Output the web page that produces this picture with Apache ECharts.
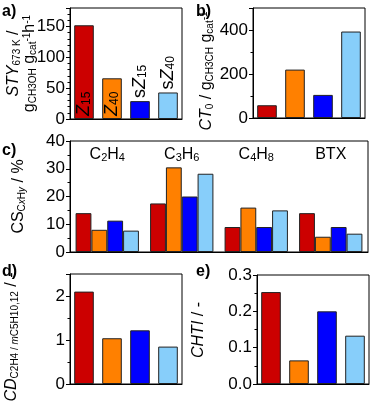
<!DOCTYPE html>
<html>
<head>
<meta charset="utf-8">
<script src="https://cdn.jsdelivr.net/npm/echarts@6/dist/echarts.min.js"></script>
<style>
  html, body { margin: 0; padding: 0; background: #fff; }
  #chart { width: 370px; height: 405px; }
</style>
</head>
<body>
<div id="chart"></div>
<script>
// catalysts (a, b, d, e) and product groups (c)
const catalysts = ['Z15', 'Z40', 'sZ15', 'sZ40']
const products = ['C2H4', 'C3H6', 'C4H8', 'BTX']

// a) space-time yield, b) CT0
const sty = [152, 66, 29, 43]
const ct0 = [58, 220, 105, 393]

// c) carbon selectivity per product, one array per catalyst
const csZ15 = [14, 17.5, 9, 14]
const csZ40 = [8, 30.5, 16, 5.5]
const csSZ15 = [11.3, 20, 9, 9]
const csSZ40 = [7.7, 28.2, 15, 6.6]

// d) CD ratio, e) CHTI
const cd = [2.1, 1.04, 1.22, 0.85]
const chti = [0.253, 0.065, 0.2, 0.133]

const COLORS = ['#cc0000', '#ff8000', '#0000ff', '#87cefa']
const FONT = 'Liberation Sans, Arial, sans-serif'

const chart = echarts.init(document.getElementById('chart'))

// rich text styles for sub/superscripts; w = empty spacer to nudge names down
const nameRich = {
  n: { fontSize: 16, fontFamily: FONT, color: '#000', lineHeight: 16 },
  i: { fontSize: 16, fontFamily: FONT, color: '#000', fontStyle: 'italic', lineHeight: 16 },
  s: { fontSize: 10, fontFamily: FONT, color: '#000', lineHeight: 9, verticalAlign: 'bottom' },
  si: { fontSize: 10, fontFamily: FONT, color: '#000', fontStyle: 'italic', lineHeight: 9, verticalAlign: 'bottom' },
  p: { fontSize: 10, fontFamily: FONT, color: '#000', lineHeight: 9, verticalAlign: 'top' },
  w: { width: 16 }
}

// "C2H4" -> rich string with subscript digits
const chem = (t) => t.replace(/([A-Za-z]+)|(\d+)/g, (m, a, d) => a ? `{n|${a}}` : `{s|${d}}`)

const grids = [
  { left: 70, top: 8, width: 112, height: 111 },
  { left: 253, top: 8, width: 112, height: 110 },
  { left: 70, top: 141, width: 298, height: 111 },
  { left: 70, top: 274, width: 112, height: 110 },
  { left: 257, top: 275, width: 112, height: 109 }
].map(g => ({ ...g, show: true, borderColor: '#000', borderWidth: 1, backgroundColor: 'transparent' }))

const yAxis = (gridIndex, max, interval, minor, name, gap, extra) => ({
  type: 'value', gridIndex, min: 0, max, interval,
  axisLine: { show: true, lineStyle: { color: '#000', width: 1 } },
  axisTick: { show: true, length: 4, lineStyle: { color: '#000' } },
  minorTick: { show: true, splitNumber: minor, length: 2.5, lineStyle: { color: '#000' } },
  splitLine: { show: false },
  axisLabel: { color: '#000', fontSize: 17, fontFamily: FONT, margin: 5, ...extra },
  name, nameLocation: 'middle', nameRotate: 90, nameGap: gap, nameMoveOverlap: false,
  nameTextStyle: { rich: nameRich, color: '#000' }
})

const xAxis = (gridIndex, data) => ({
  type: 'category', gridIndex, data,
  axisLine: { show: true, lineStyle: { color: '#000' } },
  axisTick: { show: false }, axisLabel: { show: false }
})

const barLabel = (i) => ({
  show: true,
  position: i < 2 ? 'insideBottom' : 'top',
  distance: 3,
  rotate: 90, align: 'left', verticalAlign: 'middle',
  formatter: () => {
    const m = catalysts[i].match(/^(s?)Z(\d+)$/)
    return (m[1] ? '{n|s}' : '') + '{z|Z}{s|' + m[2] + '}'
  },
  rich: {
    n: { fontSize: 18, fontFamily: FONT, color: '#000', lineHeight: 18 },
    z: { fontSize: 18, fontFamily: FONT, color: '#000', fontStyle: 'italic', lineHeight: 18 },
    s: { fontSize: 12, fontFamily: FONT, color: '#000', lineHeight: 10, verticalAlign: 'bottom' }
  }
})

const catSeries = (idx, values, withLabels) => ({
  type: 'bar', xAxisIndex: idx, yAxisIndex: idx, barWidth: '70%',
  data: values.map((v, i) => ({
    value: v,
    itemStyle: { color: COLORS[i], borderColor: '#222', borderWidth: 1 },
    label: withLabels ? barLabel(i) : { show: false }
  }))
})

const csSeries = [csZ15, csZ40, csSZ15, csSZ40].map((vals, k) => ({
  type: 'bar', xAxisIndex: 2, yAxisIndex: 2, barGap: '0%', barCategoryGap: '15%',
  itemStyle: { color: COLORS[k], borderColor: '#222', borderWidth: 1 },
  data: vals
}))

const panelLetter = (txt, x, y) => ({
  type: 'text', left: x, top: y,
  style: { text: txt, font: 'bold 16px ' + FONT, fill: '#000' }
})

chart.setOption({
  animation: false,
  grid: grids,
  xAxis: [
    xAxis(0, catalysts), xAxis(1, catalysts), xAxis(2, products), xAxis(3, catalysts), xAxis(4, catalysts),
    {
      type: 'category', gridIndex: 2, data: products, position: 'top',
      axisLine: { show: false }, axisTick: { show: false },
      axisLabel: {
        inside: true, margin: 6, interval: 0, formatter: (v) => chem(v),
        rich: {
          n: { fontSize: 16, fontFamily: FONT, color: '#000', lineHeight: 16 },
          s: { fontSize: 11, fontFamily: FONT, color: '#000', lineHeight: 9, verticalAlign: 'bottom' }
        }
      }
    }
  ],
  yAxis: [
    yAxis(0, 180, 50, 5, '{i|STY}{s|673 K}{n| /}\n{n|g}{s|CH3OH}{n| g}{s|cat}{p|-1}{n|h}{p|-1}', 32, { showMaxLabel: false }),
    yAxis(1, 500, 200, 2, '{i|CT}{s|0}{n| / g}{s|CH3CH}{n| g}{s|cat}{p|-1}{w|}', 38, { showMaxLabel: false }),
    yAxis(2, 40, 10, 2, '{n|CS}{s|C}{si|x}{s|H}{si|y}{n| / %}', 43),
    yAxis(3, 2.5, 1, 2, '{i|CD}{s|C2H4 / }{si|m}{s|C5H10,12}{n| / -}{w|}', 50, { showMaxLabel: false }),
    yAxis(4, 0.3, 0.1, 2, '', 0, { formatter: (v) => v.toFixed(1) })
  ],
  graphic: [
    panelLetter('a)', 2, 4), panelLetter('b)', 196, 4), panelLetter('c)', 2, 143),
    panelLetter('d)', 2, 264), panelLetter('e)', 196, 264),
    {
      type: 'text', x: 199, y: 330, rotation: Math.PI / 2,
      style: { text: '{i|CHTI}{n| / -}', rich: nameRich, align: 'center', verticalAlign: 'middle' }
    }
  ],
  series: [
    catSeries(0, sty, true),
    catSeries(1, ct0, false),
    ...csSeries,
    catSeries(3, cd, false),
    catSeries(4, chti, false)
  ]
})

window.addEventListener('resize', () => chart.resize())
</script>
</body>
</html>
